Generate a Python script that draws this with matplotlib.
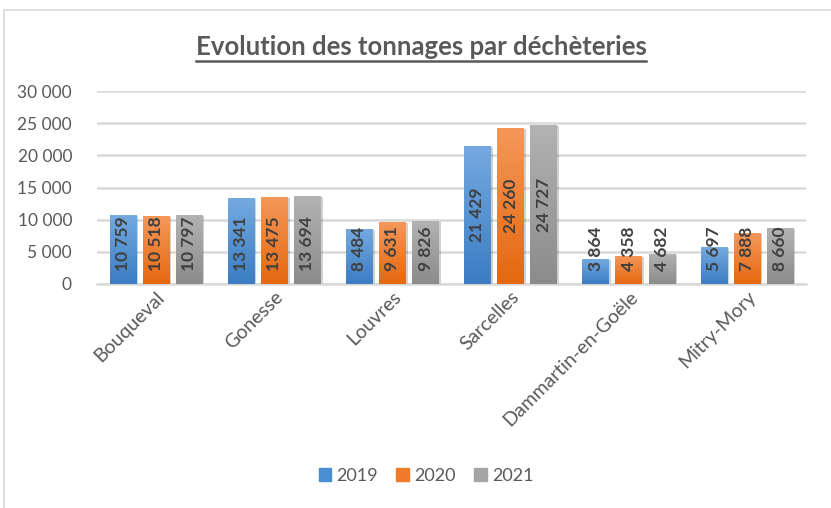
import numpy as np
import matplotlib
matplotlib.use("Agg")
import matplotlib.pyplot as plt
import matplotlib.transforms as mtransforms
from matplotlib.colors import LinearSegmentedColormap
from matplotlib.patches import Rectangle
from matplotlib.lines import Line2D

plt.rcParams['font.family'] = ['Lato', 'DejaVu Sans']

# donnees
sites = ['Bouqueval', 'Gonesse', 'Louvres', 'Sarcelles', 'Dammartin-en-Goële', 'Mitry-Mory']
years = ['2019', '2020', '2021']
t2019 = [10759, 13341, 8484, 21429, 3864, 5697]
t2020 = [10518, 13475, 9631, 24260, 4358, 7888]
t2021 = [10797, 13694, 9826, 24727, 4682, 8660]
yticks = [0, 5000, 10000, 15000, 20000, 25000, 30000]

# couleurs (haut, bas) du degrade
grads = [('#74aae0', '#3b7cc3'), ('#f4985a', '#e5680f'), ('#b3b3b3', '#8b8b8b')]
legend_cols = ['#4a8fd4', '#ee7a2c', '#a5a5a5']

def fmt(v):
    return '{:,}'.format(v).replace(',', ' ')

fig = plt.figure(figsize=(8.31, 5.08), dpi=100)
ax = fig.add_axes([97/831, 1-284/508, (806-97)/831, (284-91)/508])

x = np.arange(len(sites))
w = 0.225
step = 0.28
series = [t2019, t2020, t2021]

grad_img = np.linspace(1, 0, 256).reshape(-1, 1)
shadow_tr = ax.transData + mtransforms.ScaledTranslation(2/100, -1/100, fig.dpi_scale_trans)

for k, vals in enumerate(series):
    cmap = LinearSegmentedColormap.from_list('g%d' % k, [grads[k][1], grads[k][0]])
    bars = ax.bar(x + (k-1)*step, vals, w, color='none', zorder=3)
    for b, v in zip(bars, vals):
        x0 = b.get_x()
        # ombre
        sh = Rectangle((x0, 0), w, v, transform=shadow_tr, color='#000000', alpha=0.18, zorder=2, lw=0)
        ax.add_patch(sh)
        im = ax.imshow(grad_img, cmap=cmap, aspect='auto', extent=[x0, x0+w, 0, v], zorder=3)
        im.set_clip_path(b)
        # etiquette
        xc = x0 + w/2
        if v/2 < 7000:
            ax.text(xc, 2000, fmt(v), rotation=90, ha='center', va='bottom',
                    fontsize=12.5, fontweight='bold', color='#404040', zorder=5)
        else:
            ax.text(xc, v/2, fmt(v), rotation=90, ha='center', va='center',
                    fontsize=12.5, fontweight='bold', color='#404040', zorder=5)

ax.set_xlim(-0.5, len(sites)-0.5)
ax.set_ylim(0, 30000)
ax.set_yticks(yticks)
ax.set_yticklabels([fmt(v) for v in yticks], fontsize=12.5, color='#595959')
ax.set_xticks(x)
ax.set_xticklabels(sites, rotation=45, ha='right', rotation_mode='anchor',
                   fontsize=14, color='#595959')
ax.tick_params(length=0, pad=18, axis='y')
ax.tick_params(length=0, pad=3, axis='x')
ax.yaxis.grid(True, color='#d9d9d9', lw=1.8, zorder=0)
ax.set_axisbelow(True)
for s in ['top', 'right', 'left']:
    ax.spines[s].set_visible(False)
ax.spines['bottom'].set_color('#d9d9d9')
ax.spines['bottom'].set_linewidth(1.8)

# legende
handles = [Rectangle((0, 0), 1, 1, color=c) for c in legend_cols]
fig.legend(handles, years, loc='center', bbox_to_anchor=(426/831, 1-476/508), ncol=3,
           frameon=False, fontsize=13, handlelength=0.7, handleheight=0.7,
           handletextpad=0.3, columnspacing=1.0, labelcolor='#595959')

# titre souligne
title = fig.text(421/831, 1-47/508, 'Evolution des tonnages par déchèteries', ha='center', va='center',
                 fontsize=18.5, fontweight='bold', color='#595959')
fig.canvas.draw()
bb = title.get_window_extent().transformed(fig.transFigure.inverted())
fig.add_artist(Line2D([bb.x0, bb.x1], [bb.y0 - 0.004, bb.y0 - 0.004], color='#595959', lw=1.8))

# cadre
fig.add_artist(Line2D([4/831, 4/831], [0, 1-10/508], color='#d9d9d9', lw=1.2))
fig.add_artist(Line2D([4/831, 1], [1-10/508, 1-10/508], color='#d9d9d9', lw=1.2))

fig.savefig('out.png', dpi=100)
